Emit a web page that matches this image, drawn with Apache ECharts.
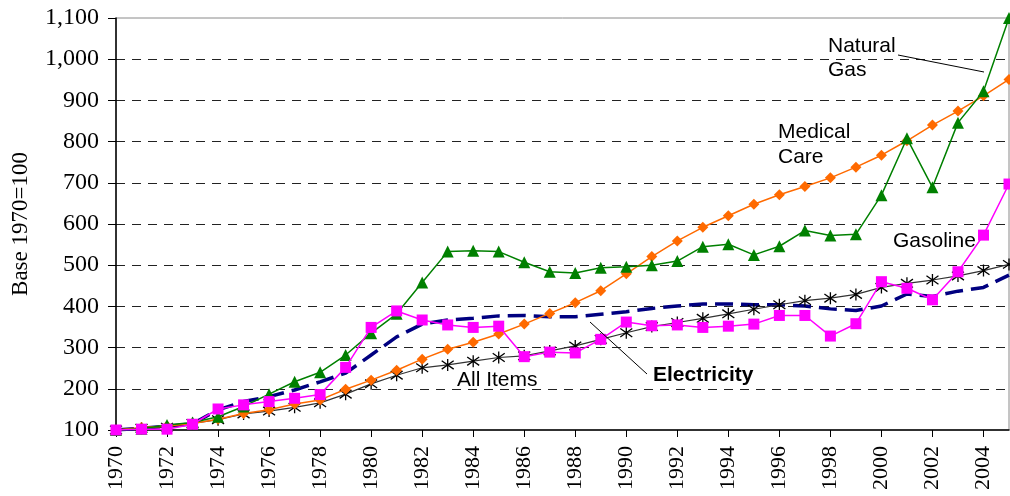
<!DOCTYPE html>
<html>
<head>
<meta charset="utf-8">
<script src="https://cdn.jsdelivr.net/npm/echarts@6/dist/echarts.min.js"></script>
<style>
html,body{margin:0;padding:0;background:#fff;}
#chart{width:1010px;height:496px;}
</style>
</head>
<body>
<div id="chart"></div>
<script>
var years = ['1970','1971','1972','1973','1974','1975','1976','1977','1978','1979','1980','1981','1982','1983','1984','1985','1986','1987','1988','1989','1990','1991','1992','1993','1994','1995','1996','1997','1998','1999','2000','2001','2002','2003','2004','2005'];
var allItems = [100,104,107,116,125,139,146,155,166,187,212,233,251,258,267,276,280,292,304,320,336,351,361,371,382,393,404,414,420,429,446,456,464,474,487,502];
var medicalCare = [100,106,110,116,126,140,149,163,173,199,221,245,272,296,313,333,357,383,409,438,479,521,559,592,620,648,671,691,712,738,767,802,840,874,911,951];
var naturalGas = [100,103,112,118,132,157,187,217,240,282,335,382,458,533,535,533,507,484,481,494,496,500,510,545,551,525,546,584,572,575,670,808,689,846,922,1100];
var gasoline = [100,102,102,114,151,161,169,177,186,252,349,389,367,355,349,352,278,289,287,320,362,353,355,349,352,357,378,378,328,358,460,444,416,484,573,697];
var electricity = [100,104,109,115,149,169,181,197,217,238,282,326,357,367,371,377,378,375,375,381,387,395,401,406,406,404,404,401,394,390,401,430,424,437,446,476];
var yTicks = {min:100, max:1100, step:100};

var chart = echarts.init(document.getElementById('chart'), null, {renderer:'canvas'});
var asterisk = 'path://M5,0 L5,10 M0.7,1.5 L9.3,8.5 M0.7,8.5 L9.3,1.5';
var sans = "'Liberation Sans', Arial, sans-serif";
var serif = "'Liberation Serif', 'Times New Roman', serif";

function txt(t, x, y, bold){
  return {type:'text', x:x, y:y, z:100,
    style:{text:t, font:(bold?'bold ':'')+'21px '+sans, fill:'#000',
      textAlign:'left', textVerticalAlign:'middle', align:'left', verticalAlign:'middle'}};
}

chart.setOption({
  animation:false,
  backgroundColor:'#fff',
  grid:{left:116, right:1, top:18, bottom:66, show:true, borderColor:'#8a8a8a', borderWidth:1, backgroundColor:'transparent'},
  xAxis:{
    type:'category', data:years, boundaryGap:false,
    axisLine:{lineStyle:{color:'#000', width:1.5}},
    axisTick:{show:true, interval:1, length:7, lineStyle:{color:'#000'}},
    axisLabel:{interval:1, rotate:90, margin:16, color:'#000', fontFamily:serif, fontSize:22},
    splitLine:{show:false}
  },
  yAxis:{
    type:'value', min:yTicks.min, max:yTicks.max, interval:yTicks.step,
    name:'Base 1970=100', nameLocation:'middle', nameRotate:90, nameGap:84,
    nameTextStyle:{fontFamily:serif, fontSize:23, color:'#000'},
    axisLine:{show:true, lineStyle:{color:'#000', width:1.5}},
    axisTick:{show:true, length:8, lineStyle:{color:'#000'}},
    axisLabel:{margin:17, color:'#000', fontFamily:serif, fontSize:24,
      formatter:function(v){return v.toLocaleString('en-US');}},
    splitLine:{show:true, showMaxLine:false, showMinLine:false, lineStyle:{color:'#222', type:[9,7], width:1}}
  },
  series:[
    {name:'Electricity', type:'line', data:electricity, showSymbol:false, symbol:'none',
      lineStyle:{color:'#000080', width:3.5, type:[18,8]}, z:2},
    {name:'All Items', type:'line', data:allItems, symbol:asterisk, symbolSize:12,
      lineStyle:{color:'#333', width:1.2},
      itemStyle:{color:'transparent', borderColor:'#000', borderWidth:1.3}, z:3},
    {name:'Medical Care', type:'line', data:medicalCare, symbol:'diamond', symbolSize:11,
      lineStyle:{color:'#FF6A00', width:1.5}, itemStyle:{color:'#FF6A00'}, z:4},
    {name:'Natural Gas', type:'line', data:naturalGas, symbol:'triangle', symbolSize:12,
      lineStyle:{color:'#008000', width:1.5}, itemStyle:{color:'#008000'}, z:5},
    {name:'Gasoline', type:'line', data:gasoline, symbol:'rect', symbolSize:11,
      lineStyle:{color:'#FF00FF', width:1.5}, itemStyle:{color:'#FF00FF'}, z:6}
  ],
  graphic:[
    txt('Natural', 828, 46), txt('Gas', 828, 70),
    txt('Medical', 778, 132.5), txt('Care', 778, 157.5),
    txt('Gasoline', 893, 241),
    txt('All Items', 457, 380),
    txt('Electricity', 653, 375, true),
    {type:'line', z:100, shape:{x1:898, y1:55, x2:984, y2:72}, style:{stroke:'#000', lineWidth:1}},
    {type:'line', z:100, shape:{x1:590, y1:322, x2:647, y2:374}, style:{stroke:'#000', lineWidth:1}}
  ]
});
</script>
</body>
</html>
